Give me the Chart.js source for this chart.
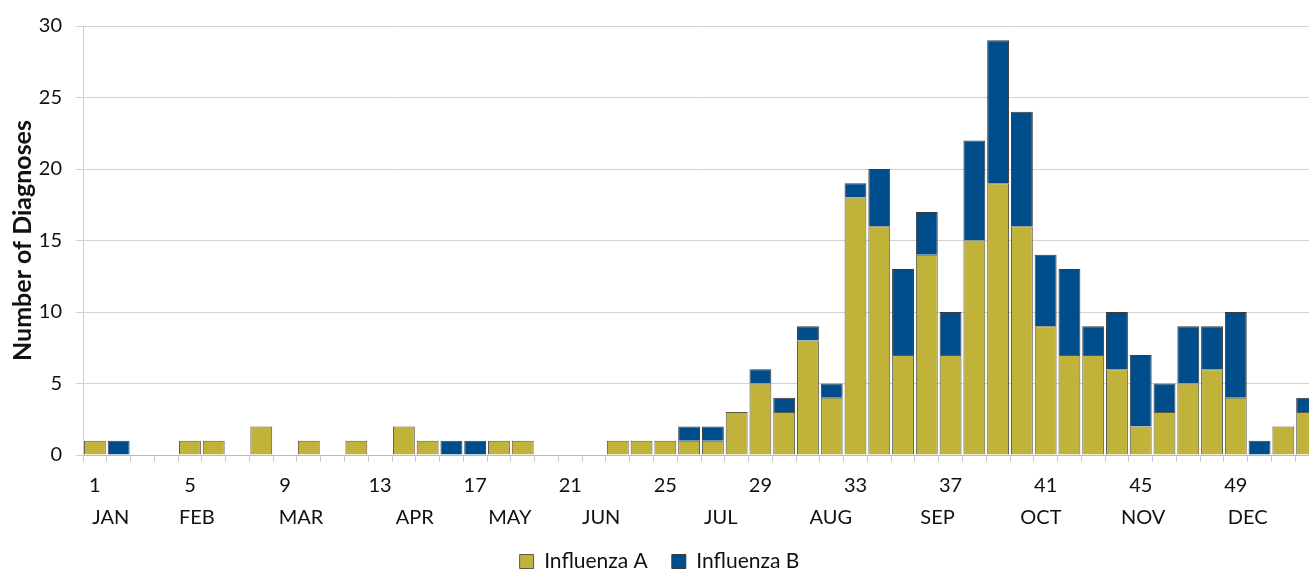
<!DOCTYPE html>
<html>
<head>
<meta charset="utf-8">
<script src="https://cdn.jsdelivr.net/npm/chart.js@4.4.1/dist/chart.umd.min.js"></script>
<style>
  html, body { margin: 0; padding: 0; background: #fff; overflow: hidden; }
  #wrap { width: 1321px; height: 582px; }
</style>
</head>
<body>
<div id="wrap"><canvas id="chart" width="1321" height="582"></canvas></div>
<script>
// weekly counts
const weeks = [1, 2, 3, 4, 5, 6, 7, 8, 9, 10, 11, 12, 13, 14, 15, 16, 17, 18, 19, 20,
  21, 22, 23, 24, 25, 26, 27, 28, 29, 30, 31, 32, 33, 34, 35, 36, 37, 38, 39, 40,
  41, 42, 43, 44, 45, 46, 47, 48, 49, 50, 51, 52];
const fluA = [1, 0, 0, 0, 1, 1, 0, 2, 0, 1, 0, 1, 0, 2, 1, 0, 0, 1, 1, 0,
  0, 0, 1, 1, 1, 1, 1, 3, 5, 3, 8, 4, 18, 16, 7, 14, 7, 15, 19, 16,
  9, 7, 7, 6, 2, 3, 5, 6, 4, 0, 2, 3];
const fluB = [0, 1, 0, 0, 0, 0, 0, 0, 0, 0, 0, 0, 0, 0, 0, 1, 1, 0, 0, 0,
  0, 0, 0, 0, 0, 1, 1, 0, 1, 1, 1, 1, 1, 4, 6, 3, 3, 7, 10, 8,
  5, 6, 2, 4, 5, 2, 4, 3, 6, 1, 0, 1];

// month labels sit between weeks, so they get their own axis
const monthNames = ["JAN", "FEB", "MAR", "APR", "MAY", "JUN", "JUL", "AUG", "SEP", "OCT", "NOV", "DEC"];
const monthWeekPos = [1.67, 5.29, 9.67, 14.46, 18.46, 22.3, 27.33, 31.96, 36.45, 40.8, 45.1, 49.5];

const FONT = "Lato, 'Open Sans', sans-serif";
const colorA = "#C1B33A";
const colorB = "#004D8C";

const ctx = document.getElementById("chart").getContext("2d");

new Chart(ctx, {
  type: "bar",
  data: {
    labels: weeks,
    datasets: [
      {
        label: "Influenza A",
        data: fluA,
        backgroundColor: colorA,
        borderColor: "#5a5a4a",
        borderWidth: 1,
        barPercentage: 0.92,
        categoryPercentage: 1.0
      },
      {
        label: "Influenza B",
        data: fluB,
        backgroundColor: colorB,
        borderColor: "#3a3a3a",
        borderWidth: 1,
        barPercentage: 0.92,
        categoryPercentage: 1.0
      }
    ]
  },
  options: {
    responsive: false,
    animation: false,
    layout: { padding: { left: 0, top: 10, right: 2, bottom: 0 } },
    plugins: {
      legend: {
        position: "bottom",
        labels: {
          font: { family: FONT, size: 21 },
          color: "#111",
          boxWidth: 14,
          boxHeight: 14,
          padding: 24
        }
      },
      tooltip: { enabled: false }
    },
    scales: {
      x: {
        stacked: true,
        offset: true,
        grid: {
          offset: true,
          drawOnChartArea: false,
          tickLength: 7,
          color: "#cccccc"
        },
        border: { color: "#bbbbbb" },
        ticks: {
          autoSkip: false,
          maxRotation: 0,
          padding: 12,
          color: "#111",
          font: { family: FONT, size: 20 },
          callback: function (val, i) {
            return (weeks[i] - 1) % 4 === 0 ? String(weeks[i]) : "";
          }
        },
        afterFit: function (axis) { axis.height = 42; }
      },
      xm: {
        type: "linear",
        position: "bottom",
        offset: false,
        min: 0.5,
        max: 52.5,
        bounds: "data",
        grid: { display: false, drawTicks: false },
        border: { display: false },
        afterBuildTicks: function (axis) {
          axis.ticks = monthWeekPos.map(v => ({ value: v }));
        },
        ticks: {
          autoSkip: false,
          maxRotation: 0,
          padding: 9,
          color: "#111",
          font: { family: FONT, size: 20 },
          callback: function (val, i) {
            return monthNames[i];
          }
        },
        afterFit: function (axis) { axis.height = 30; }
      },
      y: {
        stacked: true,
        min: 0,
        max: 30,
        grid: {
          color: "#d2d2d2",
          tickLength: 7
        },
        border: { color: "#cccccc" },
        ticks: {
          stepSize: 5,
          padding: 14,
          color: "#111",
          font: { family: FONT, size: 20 }
        },
        title: {
          display: true,
          text: "Number of Diagnoses",
          color: "#111",
          font: { family: FONT, size: 25, weight: "bold" },
          padding: { top: 8, bottom: 0 }
        },
        afterFit: function (axis) { axis.width = 83; }
      }
    }
  }
});
</script>
</body>
</html>
